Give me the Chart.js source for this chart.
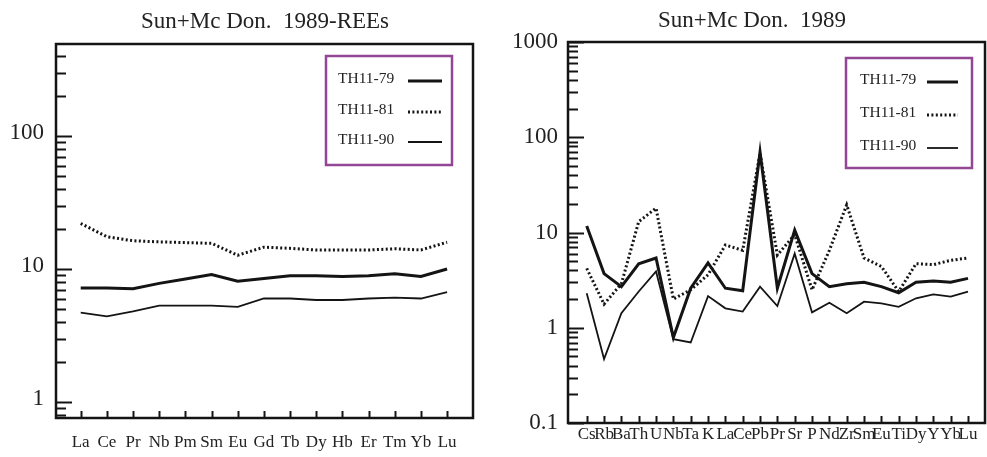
<!DOCTYPE html>
<html>
<head>
<meta charset="utf-8">
<script src="https://cdn.jsdelivr.net/npm/chart.js@4.4.0/dist/chart.umd.min.js"></script>
<style>
  body { margin: 0; background: #fff; }
  #wrap { position: relative; width: 987px; height: 457px; }
  canvas { position: absolute; top: 0; }
</style>
</head>
<body>
<div id="wrap">
  <canvas id="reeChart" width="490" height="457" style="left:0"></canvas>
  <canvas id="spiderChart" width="497" height="457" style="left:490px"></canvas>
</div>
<script>
// REE pattern, chondrite normalised
const reeLabels = ["La", "Ce", "Pr", "Nb", "Pm", "Sm", "Eu", "Gd", "Tb", "Dy", "Hb", "Er", "Tm", "Yb", "Lu"];
const ree79 = [7.2, 7.2, 7.1, 7.8, 8.4, 9.1, 8.1, 8.5, 8.9, 8.9, 8.8, 8.9, 9.2, 8.8, 10.0];
const ree81 = [22, 17.5, 16.3, 16, 15.8, 15.6, 12.7, 14.6, 14.3, 13.9, 13.9, 13.9, 14.2, 13.9, 15.9];
const ree90 = [4.7, 4.4, 4.8, 5.3, 5.3, 5.3, 5.2, 6.0, 6.0, 5.85, 5.85, 6.0, 6.1, 6.0, 6.7];

// trace element spider diagram, primitive mantle normalised
const spiderLabels = ["Cs", "Rb", "Ba", "Th", "U", "Nb", "Ta", "K", "La", "Ce", "Pb", "Pr", "Sr", "P", "Nd", "Zr", "Sm", "Eu", "Ti", "Dy", "Y", "Yb", "Lu"];
const spider79 = [11.7, 3.7, 2.7, 4.7, 5.4, 0.79, 2.6, 4.8, 2.6, 2.45, 70, 2.6, 10.6, 3.7, 2.7, 2.9, 3.0, 2.7, 2.33, 3.0, 3.1, 3.0, 3.3];
const spider81 = [4.2, 1.77, 2.9, 13, 18, 2.0, 2.5, 3.6, 7.4, 6.5, 68, 5.8, 9.5, 2.5, 6.5, 19.5, 5.4, 4.4, 2.4, 4.7, 4.6, 5.1, 5.4];
const spider90 = [2.3, 0.47, 1.42, 2.4, 3.9, 0.76, 0.70, 2.15, 1.6, 1.48, 2.7, 1.69, 6.0, 1.45, 1.83, 1.42, 1.88, 1.8, 1.66, 2.04, 2.24, 2.12, 2.4];

const sampleNames = ["TH11-79", "TH11-81", "TH11-90"];
const serif = "'Liberation Serif', 'DejaVu Serif', serif";
const ink = '#141414';

function makeSets(series) {
    const styles = [
        { borderWidth: 3, borderDash: [] },
        { borderWidth: 3, borderDash: [2, 2.4] },
        { borderWidth: 1.8, borderDash: [] }
    ];
    return series.map((vals, i) => ({
        label: sampleNames[i],
        data: vals.map((v, j) => ({ x: j, y: v })),
        borderColor: ink,
        borderWidth: styles[i].borderWidth,
        borderDash: styles[i].borderDash,
        pointRadius: 0,
        tension: 0,
        fill: false
    }));
}

// title, frame, inward log ticks, category ticks and the boxed legend
const frameTicks = {
    id: 'frameTicks',
    afterDraw(chart, args, opts) {
        const { ctx, chartArea: a, scales: { x, y } } = chart;
        ctx.save();

        ctx.font = '23px ' + serif;
        ctx.fillStyle = '#222';
        ctx.textAlign = 'center';
        ctx.textBaseline = 'middle';
        ctx.fillText(opts.title.text, opts.title.x, opts.title.y);
        ctx.textAlign = 'left';

        ctx.strokeStyle = ink;
        ctx.lineCap = 'butt';
        ctx.lineWidth = 2;
        const lo = Math.floor(Math.log10(y.min));
        const hi = Math.ceil(Math.log10(y.max));
        for (let e = lo; e <= hi; e++) {
            for (let m = 1; m < 10; m++) {
                const v = m * Math.pow(10, e);
                if (v < y.min * 0.999 || v > y.max * 1.001) continue;
                const py = Math.round(y.getPixelForValue(v)) + 0.5;
                const len = m === 1 ? 16 : 10;
                ctx.beginPath();
                ctx.moveTo(a.left, py);
                ctx.lineTo(a.left + len, py);
                ctx.stroke();
            }
        }

        x.ticks.forEach(t => {
            const px = Math.round(x.getPixelForValue(t.value)) + 0.5;
            ctx.beginPath();
            ctx.moveTo(px, a.bottom);
            ctx.lineTo(px, a.bottom - 7);
            ctx.stroke();
        });

        ctx.lineWidth = 2.5;
        ctx.strokeRect(a.left, a.top, a.right - a.left, a.bottom - a.top);

        // legend box
        const lg = opts.legend;
        ctx.strokeStyle = '#934693';
        ctx.lineWidth = 2.5;
        ctx.strokeRect(lg.x, lg.y, lg.w, lg.h);
        ctx.font = '15.5px ' + serif;
        chart.data.datasets.forEach((ds, i) => {
            const ry = lg.rows[i];
            ctx.fillText(ds.label, lg.textX, ry);
            ctx.strokeStyle = ink;
            ctx.lineWidth = ds.borderWidth;
            ctx.setLineDash(ds.borderDash);
            ctx.beginPath();
            ctx.moveTo(lg.lineX1, ry + 2);
            ctx.lineTo(lg.lineX2, ry + 2);
            ctx.stroke();
            ctx.setLineDash([]);
        });
        ctx.restore();
    }
};

function buildChart(id, cfg) {
    const ctx = document.getElementById(id).getContext('2d');
    return new Chart(ctx, {
        type: 'line',
        data: { datasets: makeSets(cfg.series) },
        options: {
            responsive: false,
            animation: false,
            devicePixelRatio: 1,
            layout: { padding: cfg.padding },
            plugins: {
                legend: { display: false },
                tooltip: { enabled: false },
                title: { display: false },
                frameTicks: { legend: cfg.legend, title: cfg.title }
            },
            scales: {
                x: {
                    type: 'linear',
                    min: cfg.xMin,
                    max: cfg.xMax,
                    grid: { display: false, drawTicks: false },
                    border: { display: false },
                    afterBuildTicks: s => { s.ticks = cfg.labels.map((_, i) => ({ value: i })); },
                    afterFit: s => { s.height = cfg.xHeight; },
                    ticks: {
                        autoSkip: false,
                        maxRotation: 0,
                        padding: cfg.xPad,
                        color: '#222',
                        font: { family: serif, size: cfg.xFont },
                        callback: v => cfg.labels[v] ?? ''
                    }
                },
                y: {
                    type: 'logarithmic',
                    min: cfg.yMin,
                    max: cfg.yMax,
                    grid: { display: false, drawTicks: false },
                    border: { display: false },
                    afterBuildTicks: s => { s.ticks = cfg.yTicks.map(v => ({ value: v })); },
                    afterFit: s => { s.width = cfg.yWidth; },
                    ticks: {
                        padding: cfg.yPad,
                        labelOffset: cfg.yLabelOffset,
                        color: '#222',
                        font: { family: serif, size: 23 },
                        callback: v => String(v)
                    }
                }
            }
        },
        plugins: [frameTicks]
    });
}

buildChart('reeChart', {
    series: [ree79, ree81, ree90],
    labels: reeLabels,
    title: { text: 'Sun+Mc Don.  1989-REEs', x: 265, y: 22 },
    padding: { left: 0, right: 17, top: 44, bottom: 0 },
    xMin: -0.944, xMax: 14.99,
    xHeight: 39, xPad: 14, xFont: 17,
    yMin: 0.758, yMax: 492,
    yTicks: [1, 10, 100],
    yWidth: 56, yPad: 12, yLabelOffset: -3,
    legend: { x: 326, y: 56, w: 126, h: 109, rows: [79, 110, 140], textX: 338, lineX1: 408, lineX2: 442 }
});

buildChart('spiderChart', {
    series: [spider79, spider81, spider90],
    labels: spiderLabels,
    title: { text: 'Sun+Mc Don.  1989', x: 262, y: 21 },
    padding: { left: 0, right: 2, top: 42, bottom: 0 },
    xMin: -1.08, xMax: 22.98,
    xHeight: 34, xPad: 1, xFont: 17,
    yMin: 0.1, yMax: 1000,
    yTicks: [0.1, 1, 10, 100, 1000],
    yWidth: 78, yPad: 10, yLabelOffset: 0,
    legend: { x: 356, y: 58, w: 126, h: 110, rows: [80, 113, 146], textX: 370, lineX1: 437, lineX2: 468 }
});
</script>
</body>
</html>
